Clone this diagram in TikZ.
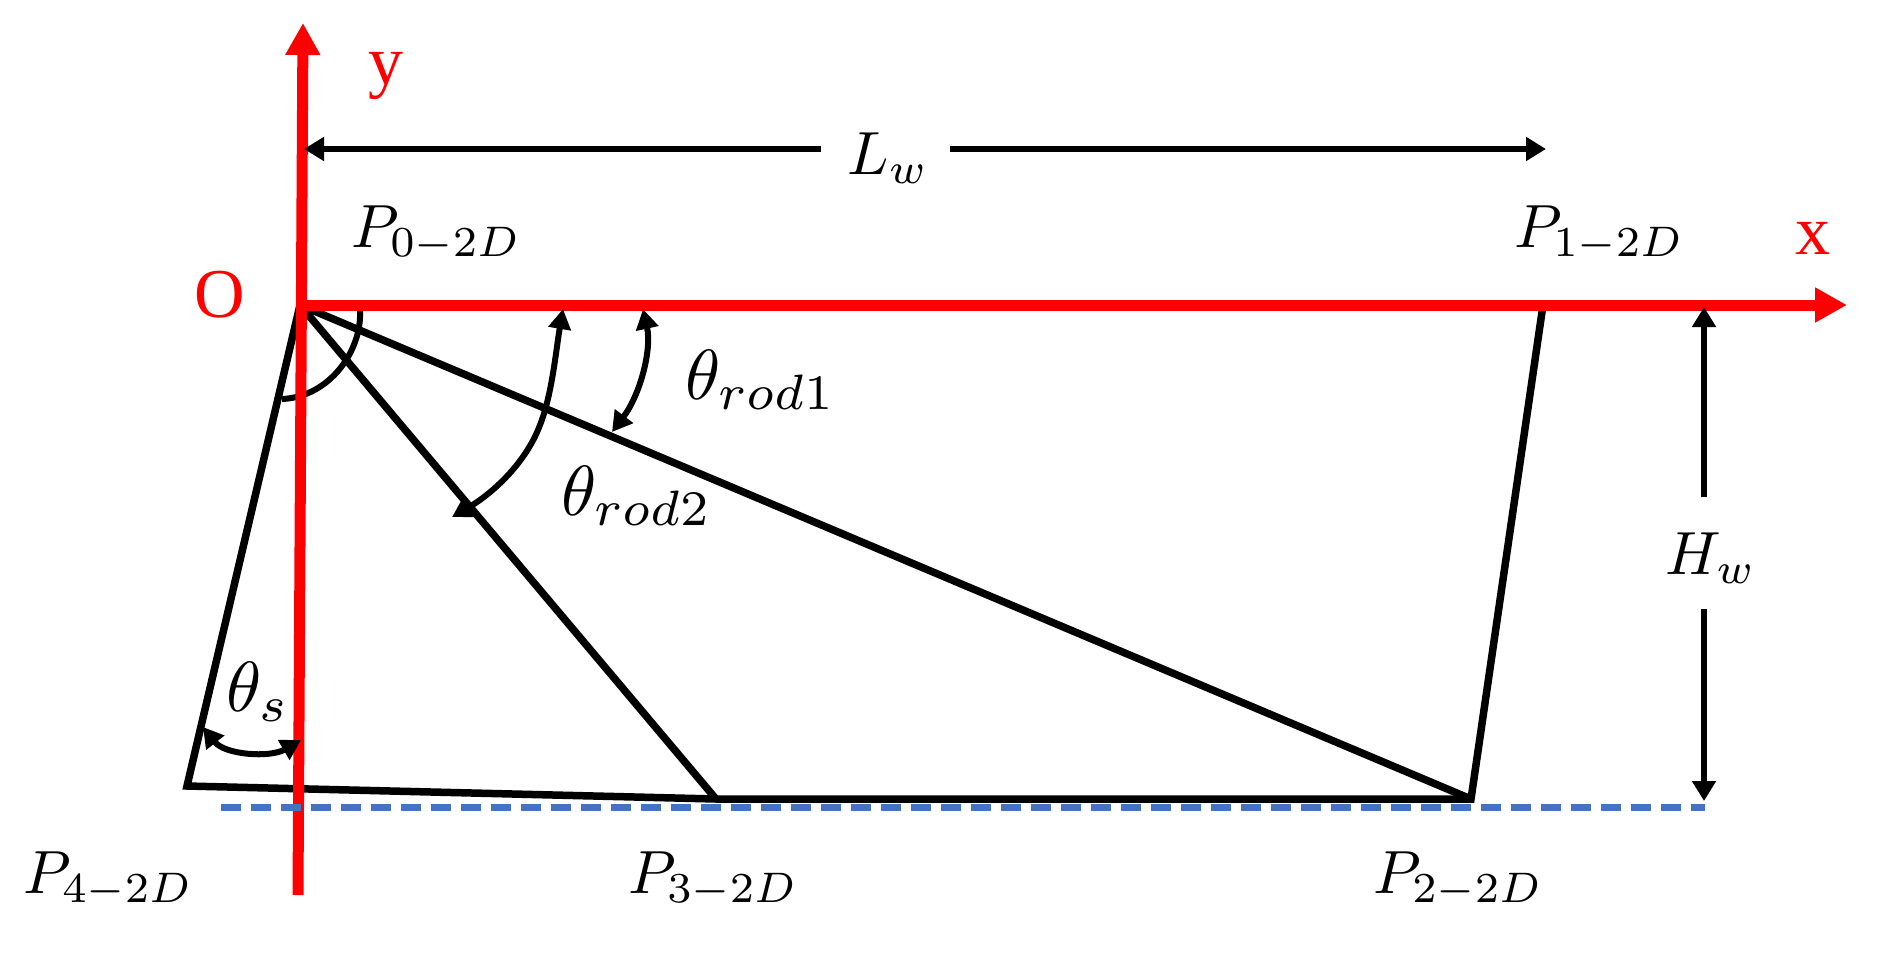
\documentclass[tikz,border=0pt]{standalone}
\usepackage{fontspec}
\newfontfamily\axisfont{Liberation Serif}
\usetikzlibrary{arrows.meta}
\definecolor{dashblue}{HTML}{4472C4}
\tikzset{
  wall/.style={draw=black,line width=7.5pt,line join=miter},
  axisline/.style={draw=red,line width=11pt,-{Triangle[length=32pt,width=33pt]}},
  dimline/.style={draw=black,line width=6.5pt},
  dimtip/.style={-{Triangle[length=20pt,width=23pt]}},
  anglearc/.style={draw=black,line width=6pt,{Triangle[length=20pt,width=22pt]}-{Triangle[length=20pt,width=22pt]}},
  plainarc/.style={draw=black,line width=6pt},
  mathlabel/.style={inner sep=0pt,scale=6.1,text=black},
  thetalabel/.style={inner sep=0pt,scale=7.1,text=black},
  redlabel/.style={inner sep=0pt,text=red,font=\fontsize{70}{70}\selectfont\axisfont},
}
\begin{document}
\begin{tikzpicture}[x=1pt,y=-1pt]
\useasboundingbox (0,0) rectangle (1886,956);
% structure points
\coordinate (O) at (300,305);
\coordinate (P1) at (1543,305);
\coordinate (P2) at (1471,799);
\coordinate (P3) at (716,799);
\coordinate (P4) at (187,786);
\coordinate (ytop) at (303,23);
\coordinate (ybot) at (298,895);
\coordinate (xtip) at (1847,305);
\coordinate (dashL) at (221,807);
\coordinate (dashR) at (1705,807);
\coordinate (LwL) at (304,149);
\coordinate (LwR) at (1546,149);
\coordinate (HwT) at (1704,307);
\coordinate (HwB) at (1704,801);
% walls and rods
\draw[wall] (O) -- (P4) -- (P3) -- (P2) -- (P1);
\draw[wall] (O) -- (P2);
\draw[wall] (O) -- (P3);
\draw[plainarc] (360,311) .. controls (362,350) and (330,397) .. (282,399);
% axes
\draw[axisline] (ybot) -- (ytop);
\draw[axisline] (O) -- (xtip);
% dashed base line
\draw[draw=dashblue,line width=7pt,dash pattern=on 20pt off 10pt] (dashL) -- (dashR);
% dimensions
\node[mathlabel] (Lw) at (888,158) {$L_w$};
\node[mathlabel] (Hw) at (1711,558) {$H_w$};
\draw[dimline,dimtip] (821,149) -- (LwL);
\draw[dimline,dimtip] (950,149) -- (LwR);
\draw[dimline,dimtip] (1704,497) -- (HwT);
\draw[dimline,dimtip] (1704,609) -- (HwB);
% angles
\draw[anglearc] (643,309) .. controls (652,350) and (640,395) .. (612,432);
\draw[anglearc] (563,309) .. controls (556,350) and (552,395) .. (540,425) .. controls (525,465) and (490,495) .. (452,517);
\draw[anglearc] (203,727) .. controls (225,755) and (270,758) .. (301,740);
% labels
\node[mathlabel,anchor=base west] (p0) at (350,247) {$P_{0-2D}$};
\node[mathlabel,anchor=base west] (p1) at (1513,247) {$P_{1-2D}$};
\node[mathlabel,anchor=base west] (p2) at (1372,893) {$P_{2-2D}$};
\node[mathlabel,anchor=base west] (p3) at (627,893) {$P_{3-2D}$};
\node[mathlabel,anchor=base west] (p4) at (22,893) {$P_{4-2D}$};
\node[thetalabel,anchor=base west] (t1) at (684,399) {$\theta_{rod1}$};
\node[thetalabel,anchor=base west] (t2) at (560,515) {$\theta_{rod2}$};
\node[thetalabel,anchor=base west] (ts) at (225,711) {$\theta_s$};
\node[redlabel] (ylab) at (386,76) {y};
\node[redlabel] (xlab) at (1813,238) {x};
\node[redlabel] (olab) at (220,295) {O};
\end{tikzpicture}
\end{document}
